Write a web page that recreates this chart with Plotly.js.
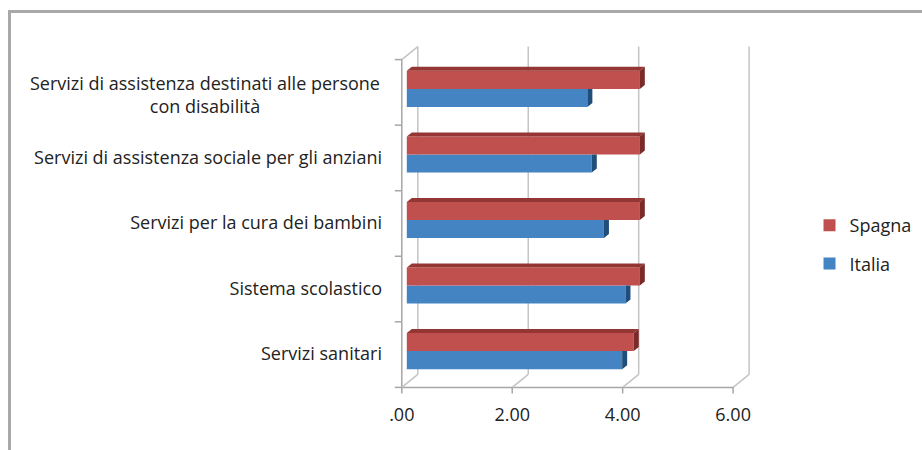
<!DOCTYPE html>
<html><head><meta charset="utf-8">
<script src="https://cdn.plot.ly/plotly-3.0.1.min.js"></script>
<style>
html,body{margin:0;padding:0;background:#fff;}
#wrap{position:relative;width:922px;height:450px;}
#chart{width:922px;height:450px;}
#frame{position:absolute;left:8px;top:10px;width:914px;height:440px;border-top:3px solid #a9a9ab;border-left:3px solid #a9a9ab;box-sizing:border-box;pointer-events:none;}
</style></head>
<body><div id="wrap"><div id="chart"></div><div id="frame"></div></div>
<script>
// ---- data ----
const categories = [
  "Servizi sanitari",
  "Sistema scolastico",
  "Servizi per la cura dei bambini",
  "Servizi di assistenza sociale per gli anziani",
  "Servizi di assistenza destinati alle persone<br>con disabilità"
];
const italia = [3.90, 3.96, 3.57, 3.35, 3.27];
const spagna = [4.11, 4.22, 4.22, 4.22, 4.22];
const xTicks = [0, 2, 4, 6];
const xTickLabels = [".00", "2.00", "4.00", "6.00"];

// ---- geometry (pixel scale of the plot) ----
const PX = 55.2;     // px per x unit
const PY = 65.5;     // px per category
const xRange = [-0.25, 6.65];
const yRange = [-0.7, 4.7];
const mL = 393.2, mR = 922 - (mL + (xRange[1]-xRange[0])*PX);
const mT = 43.15, mB = 450 - (mT + (yRange[1]-yRange[0])*PY);

const ypos = categories.map((c,i)=>i);
const half = 0.275;
const bdx = 5/PX, bdy = 4/PY;
const xF = -5/PX, yF = -3.5/PY, xB = 11/PX, yB = 9.5/PY;

const cRed = "#c0504d", cRedTop = "#943634", cRedSide = "#7a2a28";
const cBlue = "#4584c3", cBlueSide = "#1f4e7b";
const font = "'Open Sans', sans-serif";
const fs = 18;

const traces = [
  {type:"bar", orientation:"h", name:"Italia", x:italia, y:ypos, marker:{color:cBlue, line:{width:0}}, legendgroup:"i", legendrank:2, hoverinfo:"x"},
  {type:"bar", orientation:"h", name:"Spagna", x:spagna, y:ypos, marker:{color:cRed, line:{width:0}}, legendgroup:"s", legendrank:1, hoverinfo:"x"}
];
function poly(pts){ const xs=[],ys=[]; pts.forEach(p=>{ if(p===null){xs.push(null);ys.push(null);} else {xs.push(p[0]);ys.push(p[1]);} }); return {xs,ys}; }
let bs=[], rt=[], rs=[];
ypos.forEach((y,i)=>{
  const vb = italia[i], vr = spagna[i];
  bs.push([vb,y-half],[vb,y],[vb+bdx,y],[vb+bdx,y-half+bdy],[vb,y-half],null);
  rt.push([0,y+half],[vr,y+half],[vr+bdx,y+half+bdy],[bdx,y+half+bdy],[0,y+half],null);
  rs.push([vr,y],[vr,y+half],[vr+bdx,y+half+bdy],[vr+bdx,y+bdy],[vr,y],null);
});
[[bs,cBlueSide],[rt,cRedTop],[rs,cRedSide]].forEach(([pts,col])=>{
  const p = poly(pts);
  traces.push({type:"scatter", mode:"lines", x:p.xs, y:p.ys, fill:"toself", fillcolor:col, line:{width:0,color:col}, showlegend:false, hoverinfo:"skip"});
});

// ---- walls / grid ----
const wall = {color:"#a6a6a6", width:1.5};
const grid = {color:"#c4c4c4", width:1.5};
const shapes = [];
function ln(x0,y0,x1,y1,line){ shapes.push({type:"line", xref:"x", yref:"y", x0,y0,x1,y1, line, layer:"below"}); }
const yBotF = -0.5+yF, yTopF = categories.length-0.5+yF;
const yBotB = -0.5+yB, yTopB = categories.length-0.5+yB;
ln(xF, yBotF, xF, yTopF, wall);
ln(xB, yBotB, xB, yTopB, grid);
ln(xF, yTopF, xB, yTopB, grid);
for(let k=0;k<=categories.length;k++){ ln(xF-7/PX, k-0.5+yF, xF, k-0.5+yF, wall); }
ln(xF, yBotF, xTicks[xTicks.length-1]+xF, yBotF, wall);
xTicks.forEach(t=>{
  if(t>0) ln(t+xB, yBotB, t+xB, yTopB, grid);
  ln(t+xF, yBotF, t+xB, yBotB, grid);
  ln(t+xF, yBotF, t+xF, yBotF-6/PY, wall);
});

// multi-line category label drawn centred (as in the reference)
const tickText = categories.map(c => c.includes("<br>") ? "" : c);
const annotations = categories.map((c,i)=>({c,i})).filter(o=>o.c.includes("<br>")).map(o=>({
  text:o.c, xref:"paper", yref:"y", x:-0.03, y:o.i, yshift:-6, xanchor:"right", yanchor:"middle",
  align:"center", showarrow:false, font:{family:font, size:fs, color:"#222"}
}));

const layout = {
  width:922, height:450,
  margin:{l:mL, r:mR, t:mT, b:mB, pad:0},
  paper_bgcolor:"#fff", plot_bgcolor:"#fff",
  barmode:"group", bargap:0.45, bargroupgap:0,
  font:{family:font, size:fs, color:"#222"},
  xaxis:{range:xRange, tickvals:xTicks, ticktext:xTickLabels, showgrid:false, zeroline:false, showline:false, ticks:"", ticklabelshift:-5, ticklabelstandoff:5, tickfont:{size:fs}},
  yaxis:{range:yRange, tickvals:ypos, ticktext:tickText, showgrid:false, zeroline:false, showline:false, ticks:"", ticklabelshift:3, ticklabelstandoff:10, tickfont:{size:fs}},
  legend:{xref:"container", yref:"container", x:0.878, y:0.54, xanchor:"left", yanchor:"top", traceorder:"grouped", tracegroupgap:12, font:{size:fs}, bgcolor:"rgba(0,0,0,0)"},
  annotations,
  shapes
};
Plotly.newPlot("chart", traces, layout, {displayModeBar:false, staticPlot:true});
</script></body></html>
